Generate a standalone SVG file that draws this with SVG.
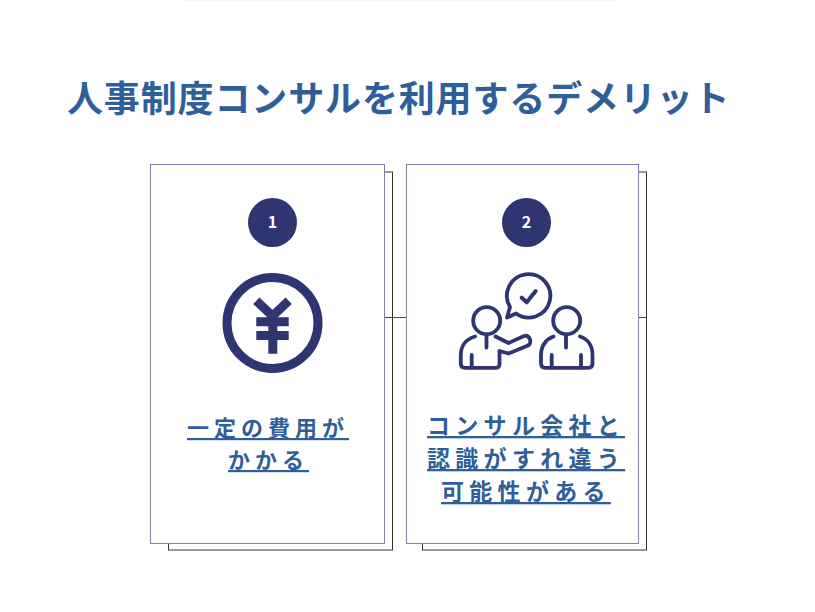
<svg xmlns="http://www.w3.org/2000/svg" width="815" height="612" viewBox="0 0 815 612">
<style>
text{font-family:"Noto Sans CJK JP","Noto Sans",sans-serif;font-weight:700}
.title{font-size:36px;letter-spacing:.86px;fill:#2f5f9b}
.l1{font-size:22px;letter-spacing:5px;fill:#2f5f9b;text-decoration:underline}
.l2{font-size:23px;letter-spacing:5.3px;fill:#2f5f9b;text-decoration:underline}
.num{font-size:16px;fill:#fff;text-anchor:middle}
.card{fill:#fff;stroke:#7d80b0;stroke-width:1}
.back{fill:#fff;stroke:#333;stroke-width:1}
.ico{fill:none;stroke:#2e3570;stroke-width:3.8;stroke-linecap:round;stroke-linejoin:round}
.navy{fill:#2e3570}
</style>
<rect width="815" height="612" fill="#fff"/>
<path d="M185 0.500H620" stroke="#f6f6f6" stroke-width="1"/>
<text class="title" x="67" y="112">人事制度コンサルを利用するデメリット</text>
<g id="card1">
<rect class="back" x="168.500" y="172" width="224" height="378"/>
<rect class="card" x="150.500" y="164.500" width="234" height="379"/>
<circle class="navy" cx="272.500" cy="222.500" r="24.500"/>
<text class="num" x="272.500" y="228">1</text>
<circle cx="272.500" cy="323" r="45.500" fill="none" stroke="#2e3570" stroke-width="9"/>
<path d="M256.300 300.800L272.500 316L288.700 300.800" fill="none" stroke="#2e3570" stroke-width="9"/>
<path class="navy" d="M268.300 312H277.300V317.300H288.700V326.300H277.300V331H288.700V340H277.300V353.700H268.300V340H256.300V331H268.300V326.300H256.300V317.300H268.300Z"/>
<text class="l1" x="187" y="436">一定の費用が</text>
<text class="l1" x="228" y="468">かかる</text>
</g>
<g id="card2">
<rect class="back" x="422.500" y="172" width="224" height="378"/>
<rect class="card" x="406.500" y="164.500" width="232" height="379"/>
<circle class="navy" cx="526.500" cy="222.500" r="24.500"/>
<text class="num" x="526.500" y="228">2</text>
<g class="ico">
<path d="M510 307A21.700 21.700 0 1 1 516 313.500L507 317.500Z"/>
<path d="M521.700 297.700L526.700 302.300L535.700 291" stroke-width="4"/>
<circle cx="486.700" cy="320.700" r="13.500"/>
<path d="M475 336.500C466 339 460.800 346 460.800 355V364Q460.800 367.800 465 367.800H496Q499.500 367.800 499.500 364V351L508.500 353.500L528 345.500C532.500 343 530 334.500 524 336L508.500 343L495.500 336.500"/>
<path d="M486.500 336V347.500M471.700 355V367.500"/>
<circle cx="566.700" cy="320.700" r="13.500"/>
<path d="M553.500 336.500C546 339 541 346 541 355V363.500Q541 367.800 545.500 367.800H588Q592.500 367.800 592.500 363.500V355C592.500 346 588 339 580 336.500"/>
<path d="M566 336V347.500M551.700 355V367.500M581 355V367.500"/>
</g>
<text class="l2" x="427" y="434">コンサル会社と</text>
<text class="l2" x="427" y="467">認識がすれ違う</text>
<text class="l2" x="441" y="500">可能性がある</text>
</g>
<g id="connectors" fill="none" stroke="#444" stroke-width="1">
<path d="M385 317.500H406M639 317.500H646"/>
</g>
</svg>
